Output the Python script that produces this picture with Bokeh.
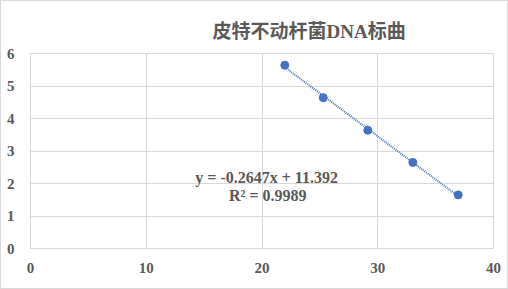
from bokeh.plotting import figure
from bokeh.models import Range1d, Label, FixedTicker
from bokeh.embed import file_html
from bokeh.resources import INLINE

title_text = "皮特不动杆菌DNA标曲"
x_vals = [21.97, 25.29, 29.14, 33.03, 36.95]
y_vals = [5.64, 4.64, 3.64, 2.65, 1.65]
slope = -0.2647
intercept = 11.392
eq_text = "y = -0.2647x + 11.392"
r2_text = "R² = 0.9989"
x_ticks = [0, 10, 20, 30, 40]
y_ticks = [0, 1, 2, 3, 4, 5, 6]

FONT = "Liberation Serif, Noto Sans CJK SC"
TXT = "#595959"
GRID = "#d9d9d9"
BLUE = "#4472C4"

p = figure(width=508, height=289, output_backend="svg", toolbar_location=None,
           x_range=Range1d(0, 40), y_range=Range1d(0, 6),
           min_border_left=29, min_border_right=16, min_border_top=52, min_border_bottom=42)
p.styles = {"box-sizing": "border-box", "border": "1px solid #d9d9d9"}
p.outline_line_color = GRID
p.background_fill_color = "white"
p.border_fill_color = "white"

p.title.text = title_text
p.title.align = "left"
p.title.offset = 182
p.title.standoff = 23
p.title.text_line_height = 0.7
p.title.text_font = FONT
p.title.text_font_style = "bold"
p.title.text_font_size = "19px"
p.title.text_color = TXT

for ax in (p.xaxis, p.yaxis):
    ax.axis_line_color = None
    ax.major_tick_line_color = None
    ax.minor_tick_line_color = None
    ax.major_label_text_font = FONT
    ax.major_label_text_font_style = "bold"
    ax.major_label_text_font_size = "15px"
    ax.major_label_text_color = TXT
p.xaxis.ticker = FixedTicker(ticks=x_ticks)
p.yaxis.ticker = FixedTicker(ticks=y_ticks)
p.xaxis.major_label_standoff = 8
p.yaxis.major_label_standoff = 10
p.xgrid.ticker = FixedTicker(ticks=x_ticks)
p.ygrid.ticker = FixedTicker(ticks=y_ticks)
p.xgrid.grid_line_color = GRID
p.ygrid.grid_line_color = GRID

# trendline
tx = [min(x_vals), max(x_vals)]
ty = [slope * v + intercept for v in tx]
p.line(tx, ty, line_color=BLUE, line_width=2, line_dash="1 1")
p.scatter(x_vals, y_vals, size=8, fill_color=BLUE, line_color=BLUE)

p.add_layout(Label(x=20.4, y=2.18, text=eq_text, text_font=FONT, text_font_style="bold",
                   text_font_size="16px", text_color=TXT, text_align="center",
                   text_baseline="middle"))
p.add_layout(Label(x=20.5, y=1.63, text=r2_text, text_font=FONT, text_font_style="bold",
                   text_font_size="16px", text_color=TXT, text_align="center",
                   text_baseline="middle"))

open("out.html", "w").write(file_html(p, INLINE))
